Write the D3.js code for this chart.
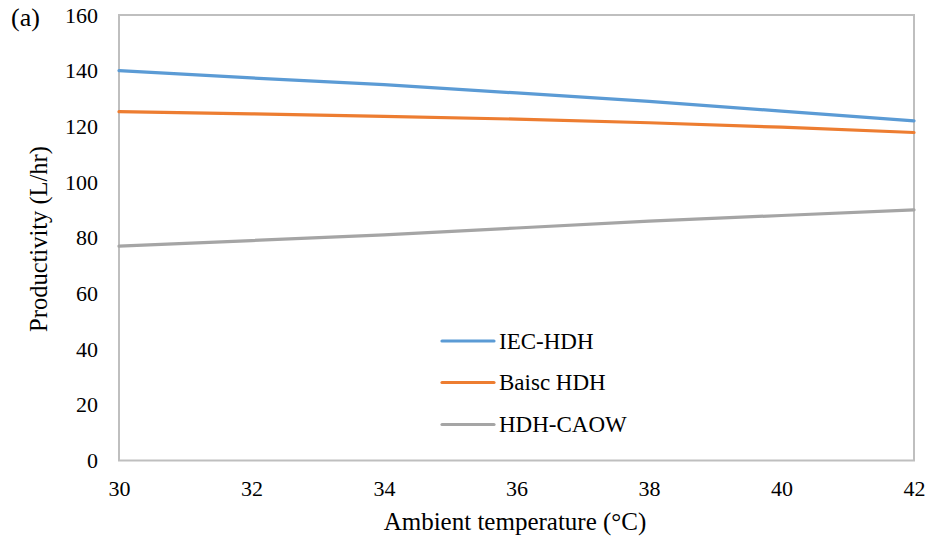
<!DOCTYPE html>
<html><head><meta charset="utf-8">
<script src="https://cdn.jsdelivr.net/npm/d3@7"></script>
<style>body{margin:0;background:#fff}svg text{fill:#000}</style>
</head><body><svg id="c" width="929" height="544"></svg>
<script>
const temps = [30, 32, 34, 36, 38, 40, 42];
const iecHDH = [140, 137.4, 135, 132, 129, 125.5, 122];
const basicHDH = [125.3, 124.5, 123.6, 122.6, 121.3, 119.7, 117.8];
const hdhCAOW = [77, 79, 81, 83.5, 86, 88, 90];
const xTicks = [30, 32, 34, 36, 38, 40, 42];
const yTicks = [0, 20, 40, 60, 80, 100, 120, 140, 160];
const seriesNames = ["IEC-HDH", "Baisc HDH", "HDH-CAOW"];
const seriesColors = ["#5B9BD5", "#ED7D31", "#A5A5A5"];
const seriesValues = [iecHDH, basicHDH, hdhCAOW];

const FONT = '"Liberation Serif","Times New Roman",serif';
const svg = d3.select("#c");
const L = 119, R = 914, T = 15, B = 460.5;
const x = d3.scaleLinear().domain([30, 42]).range([L, R]);
const y = d3.scaleLinear().domain([0, 160]).range([B, T]);

svg.append("rect").attr("x", L).attr("y", T).attr("width", R - L).attr("height", B - T)
  .attr("fill", "none").attr("stroke", "#BFBFBF").attr("stroke-width", 2);

const ya = svg.append("g").attr("transform", `translate(${L},0)`)
  .call(d3.axisLeft(y).tickValues(yTicks).tickSize(0).tickPadding(21));
ya.attr("font-family", FONT);
ya.select(".domain").remove();
ya.selectAll("text").style("font-family", FONT).attr("font-size", 22);

const xa = svg.append("g").attr("transform", `translate(0,${B})`)
  .call(d3.axisBottom(x).tickValues(xTicks).tickSize(0).tickPadding(20));
xa.attr("font-family", FONT);
xa.select(".domain").remove();
xa.selectAll("text").style("font-family", FONT).attr("font-size", 22);

const line = d3.line().x((d, i) => x(temps[i])).y(d => y(d));
seriesValues.forEach((vals, k) => {
  svg.append("path").datum(vals).attr("d", line).attr("fill", "none")
    .attr("stroke", seriesColors[k]).attr("stroke-width", 3.2).attr("stroke-linecap", "round");
});

const legY = [341, 382.5, 424.5];
seriesNames.forEach((n, k) => {
  svg.append("line").attr("x1", 442).attr("x2", 494).attr("y1", legY[k]).attr("y2", legY[k])
    .attr("stroke", seriesColors[k]).attr("stroke-width", 3.2).attr("stroke-linecap", "round");
  svg.append("text").attr("x", 499).attr("y", legY[k] + 7.5).attr("font-size", 23)
    .style("font-family", FONT).text(n);
});

svg.append("text").attr("x", 515).attr("y", 530).attr("text-anchor", "middle")
  .attr("font-size", 25).style("font-family", FONT).text("Ambient temperature (°C)");
svg.append("text").attr("transform", "translate(47,239) rotate(-90)").attr("text-anchor", "middle")
  .attr("font-size", 24.5).style("font-family", FONT).text("Productivity (L/hr)");
svg.append("text").attr("x", 11).attr("y", 26).attr("font-size", 26).style("font-family", FONT).text("(a)");
</script></body></html>
